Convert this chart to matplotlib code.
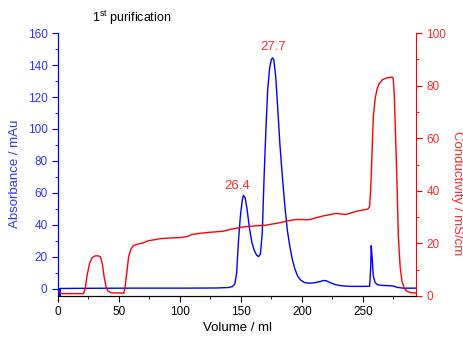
import matplotlib
matplotlib.use("Agg")
import matplotlib.pyplot as plt
from matplotlib.ticker import MultipleLocator

plt.rcParams['font.family'] = ['Liberation Sans', 'DejaVu Sans']
plt.rcParams['mathtext.fontset'] = 'custom'
plt.rcParams['mathtext.rm'] = 'Liberation Sans'

# absorbance trace (left axis)
abs_vol = [0, 1.8, 1.9, 2.0, 20, 60, 100, 130, 140, 143, 145, 146.5, 148, 149.5,
           151, 152, 153.5, 155, 157, 159, 161, 163, 164.5, 166, 167.5, 169,
           170.5, 172, 173.5, 175, 176, 177, 178.5, 180, 182, 184, 186, 188,
           190, 192, 194, 196.5, 199, 202, 206, 210, 214, 218, 220, 223, 227,
           232, 240, 250, 255.5, 256.3, 256.8, 257.5, 258.5, 260, 262, 266,
           272, 275, 278, 283, 293]
abs_mau = [0, 0, -4.4, 0.3, 0.4, 0.5, 0.5, 0.6, 0.9, 1.5, 3, 10, 30, 45,
           55, 58.5, 57, 50, 38, 29, 24, 21, 20.2, 22, 35, 70,
           100, 125, 138, 143.5, 144.5, 143, 133, 115, 90, 70, 52, 37,
           27, 19, 13, 8, 5.5, 4.0, 3.6, 3.8, 4.5, 5.3, 5.1, 4.0, 2.8,
           2.0, 1.6, 1.6, 1.7, 12, 27, 20, 8, 4, 2.6, 2.2,
           2.0, 1.8, 1.0, 0.5, 0.5]

# conductivity trace (right axis)
cond_vol = [0, 1.5, 3, 21, 22.5, 24, 26, 28, 30, 33, 35, 36.5, 38, 39.5, 41,
            44, 54, 55, 56.5, 58, 60, 62, 66, 70, 74, 78, 84, 90, 100, 106,
            110, 116, 124, 135, 141, 148, 152, 160, 170, 181, 190, 195, 206,
            212, 217, 228, 236, 244.5, 250, 254, 255.5, 256.5, 257.5, 258.5,
            260, 261.5, 263, 266, 270, 274.3, 275, 275.8, 276.8, 277.8, 279,
            280.5, 282, 284, 286, 289, 293]
cond_ms = [2.3, 1.5, 0.9, 0.9, 3, 8, 12.5, 14.5, 15.2, 15.3, 14.8, 12, 7, 3.5, 1.8,
           1.2, 1.1, 3, 9, 15, 18, 19.2, 19.8, 20.2, 21, 21.3, 21.8, 22, 22.2, 22.6,
           23.4, 23.8, 24.2, 24.6, 25.3, 25.9, 26.3, 26.6, 26.9, 27.8, 28.7, 29.1, 29.0,
           29.8, 30.4, 31.4, 31.0, 32.2, 32.7, 33.0, 34, 42, 55, 68,
           75, 78.5, 80.5, 82.3, 83, 83.2, 82, 75, 60, 45, 23,
           11, 5.5, 2.8, 1.8, 1.3, 1.1]

peak_labels = ["26.4", "27.7"]
peak_x = [147, 176.2]
peak_y = [64.4, 151]

blue = '#0000ff'
blue_txt = '#3333ff'
red = '#ff0000'
red_txt = '#ff2a2a'

fig = plt.figure(figsize=(4.63, 3.37), dpi=100)
ax = fig.add_axes([0.125, 0.1217, 0.7735, 0.7803])
ax2 = ax.twinx()

ax.plot(abs_vol, abs_mau, color=blue, lw=1.0)
ax2.plot(cond_vol, cond_ms, color=red, lw=1.0)

ax.set_xlim(0, 293.5)
ax.set_ylim(-4.4, 160)
ax2.set_ylim(0, 100)

ax.xaxis.set_major_locator(MultipleLocator(50))
ax.xaxis.set_minor_locator(MultipleLocator(25))
ax.yaxis.set_major_locator(MultipleLocator(20))
ax.yaxis.set_minor_locator(MultipleLocator(10))
ax2.yaxis.set_major_locator(MultipleLocator(20))
ax2.yaxis.set_minor_locator(MultipleLocator(10))

for a in (ax, ax2):
    a.spines['top'].set_visible(False)
ax2.spines['left'].set_color(blue)
ax2.spines['right'].set_color(red)
ax2.spines['bottom'].set_color('black')
ax.spines['left'].set_color(blue)
ax.spines['right'].set_visible(False)

ax.tick_params(axis='x', which='major', direction='out', length=4, labelsize=8.5, colors='black')
ax.tick_params(axis='x', which='minor', direction='out', length=2)
ax.tick_params(axis='y', which='major', direction='out', length=4, labelsize=8.5,
               color=blue, labelcolor=blue_txt)
ax.tick_params(axis='y', which='minor', direction='out', length=2, color=blue)
ax2.tick_params(axis='y', which='major', direction='out', length=4, labelsize=8.5,
                color=red, labelcolor=red_txt)
ax2.tick_params(axis='y', which='minor', direction='out', length=2, color=red)

ax.set_xlabel("Volume / ml", fontsize=9.5)
ax.xaxis.set_label_coords(0.501, -0.1)
ax.set_ylabel("Absorbance / mAu", fontsize=9.5, color=blue_txt)
ax.yaxis.set_label_coords(-0.103, 0.464)
ax2.set_ylabel("Conductivity / mS/cm", fontsize=9.5, color=red_txt, rotation=270, va='center')
ax2.yaxis.set_label_coords(1.114, 0.392)

for lab, px, py in zip(peak_labels, peak_x, peak_y):
    ax.text(px, py, lab, color=red_txt, fontsize=9.5, ha='center', va='center')

fig.text(132 / 463, 1 - 18 / 337, r"1$^{\mathrm{st}}$ purification", fontsize=9,
         ha='center', va='center')

fig.savefig("out.png", dpi=100)
